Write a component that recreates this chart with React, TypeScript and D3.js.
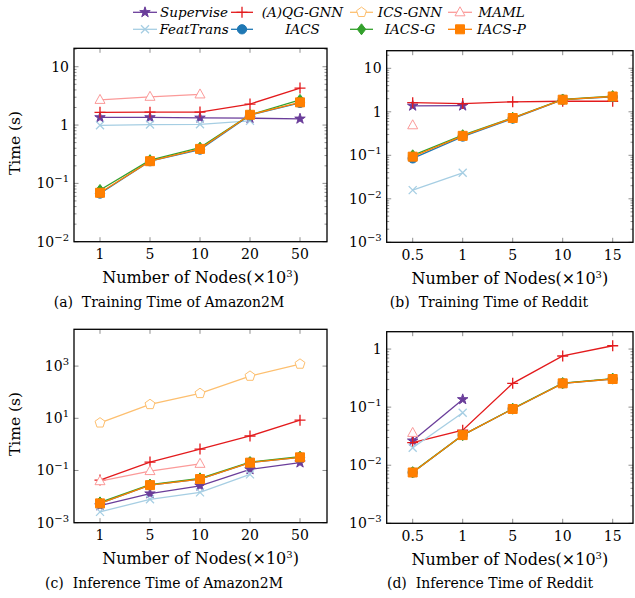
import React, { Component } from "react";
import * as d3 from "d3";

// x categories (number of nodes, x10^3)
const amazonNodes = ["1", "5", "10", "20", "50"];
const redditNodes = ["0.5", "1", "5", "10", "15"];

const methods = ["Supervise", "(A)QG-GNN", "ICS-GNN", "MAML", "FeatTrans", "IACS", "IACS-G", "IACS-P"];
const colors = ["#6a3d9a", "#e31a1c", "#fdbf6f", "#fb9a99", "#a6cee3", "#1f78b4", "#33a02c", "#ff7f00"];
const markers = ["star", "plus", "pentagon", "triangle", "cross", "circle", "diamond", "square"];

// (a) training time of Amazon2M
const trainAmazonSupervise = [1.35, 1.35, 1.33, 1.31, 1.28];
const trainAmazonAqg = [1.65, 1.66, 1.67, 2.29, 4.3];
const trainAmazonIcs = [null, null, null, null, null];
const trainAmazonMaml = [2.7, 3.05, 3.35, null, null];
const trainAmazonFeat = [0.99, 1.02, 1.03, 1.18, null];
const trainAmazonIacs = [0.067, 0.24, 0.38, 1.48, 2.4];
const trainAmazonIacsG = [0.077, 0.25, 0.41, 1.5, 2.7];
const trainAmazonIacsP = [0.069, 0.24, 0.39, 1.5, 2.45];

// (b) training time of Reddit
const trainRedditSupervise = [1.37, 1.38, null, null, null];
const trainRedditAqg = [1.62, 1.55, 1.7, 1.75, 1.75];
const trainRedditIcs = [null, null, null, null, null];
const trainRedditMaml = [0.49, null, null, null, null];
const trainRedditFeat = [0.0158, 0.0396, null, null, null];
const trainRedditIacs = [0.085, 0.27, 0.7, 1.9, 2.2];
const trainRedditIacsG = [0.1, 0.29, 0.73, 1.92, 2.3];
const trainRedditIacsP = [0.093, 0.28, 0.72, 1.9, 2.25];

// (c) inference time of Amazon2M
const inferAmazonSupervise = [0.0045, 0.013, 0.026, 0.11, 0.2];
const inferAmazonAqg = [0.043, 0.21, 0.66, 2.1, 8.5];
const inferAmazonIcs = [6.7, 34, 90, 414, 1200];
const inferAmazonMaml = [0.039, 0.095, 0.18, null, null];
const inferAmazonFeat = [0.0026, 0.0079, 0.0145, 0.071, null];
const inferAmazonIacs = [0.0055, 0.0275, 0.047, 0.2, 0.32];
const inferAmazonIacsG = [0.006, 0.029, 0.05, 0.21, 0.34];
const inferAmazonIacsP = [0.0055, 0.0275, 0.047, 0.2, 0.32];

// (d) inference time of Reddit
const inferRedditSupervise = [0.0264, 0.136, null, null, null];
const inferRedditAqg = [0.0245, 0.04, 0.257, 0.76, 1.14];
const inferRedditIcs = [null, null, null, null, null];
const inferRedditMaml = [0.036, null, null, null, null];
const inferRedditFeat = [0.02, 0.08, null, null, null];
const inferRedditIacs = [0.0075, 0.033, 0.093, 0.257, 0.305];
const inferRedditIacsG = [0.0076, 0.033, 0.094, 0.26, 0.31];
const inferRedditIacsP = [0.0075, 0.033, 0.093, 0.257, 0.305];

const FONT = "'DejaVu Serif', serif";

function markerPath(kind: string): string {
    switch (kind) {
        case "star": return d3.symbol(d3.symbolStar, 34)() as string;
        case "plus": return "M-5.5,0H5.5M0,-5.5V5.5";
        case "cross": return "M-4,-4L4,4M-4,4L4,-4";
        case "circle": return d3.symbol(d3.symbolCircle, 68)() as string;
        case "square": return d3.symbol(d3.symbolSquare, 81)() as string;
        case "diamond": return "M0,-5.5L4.2,0L0,5.5L-4.2,0Z";
        case "triangle": return "M0,-5.5L5,3.5L-5,3.5Z";
        case "pentagon": {
            const pts = d3.range(5).map(k => {
                const a = -Math.PI / 2 + k * 2 * Math.PI / 5;
                return [5.2 * Math.cos(a), 5.2 * Math.sin(a)];
            });
            return "M" + pts.map(p => p.join(",")).join("L") + "Z";
        }
    }
    return "";
}

function drawMarker(g: any, kind: string, color: string, x: number, y: number) {
    const open = kind === "pentagon" || kind === "triangle";
    const lineOnly = kind === "plus" || kind === "cross";
    g.append("path")
        .attr("d", markerPath(kind))
        .attr("transform", `translate(${x},${y})`)
        .attr("fill", lineOnly ? "none" : open ? "white" : color)
        .attr("stroke", color)
        .attr("stroke-width", lineOnly ? 1.3 : 1);
}

function tickLabel(text: any, v: number, alwaysPow: boolean) {
    const e = Math.round(Math.log10(v));
    if (!alwaysPow && e === 0) { text.text("1"); return; }
    if (!alwaysPow && e === 1) { text.text("10"); return; }
    text.append("tspan").text("10");
    text.append("tspan").attr("dy", -6).attr("font-size", 10).text(e < 0 ? "\u2212" + (-e) : String(e));
}

class App extends Component {
    myRef = React.createRef<SVGSVGElement>();

    componentDidMount() {
        const panels = [
            {
                cats: amazonNodes,
                series: [trainAmazonSupervise, trainAmazonAqg, trainAmazonIcs, trainAmazonMaml, trainAmazonFeat, trainAmazonIacs, trainAmazonIacsG, trainAmazonIacsP],
                frame: { x0: 74, x1: 327, y0: 48.3, y1: 241.7 },
                domain: [0.01, 20.7], ticks: [0.01, 0.1, 1, 10], minor: true, pow: false,
                ylabel: true, caption: "(a)  Training Time of Amazon2M", capX: 169
            },
            {
                cats: redditNodes,
                series: [trainRedditSupervise, trainRedditAqg, trainRedditIcs, trainRedditMaml, trainRedditFeat, trainRedditIacs, trainRedditIacsG, trainRedditIacsP],
                frame: { x0: 386.7, x1: 633, y0: 50.7, y1: 242.3 },
                domain: [0.001, 25.4], ticks: [0.001, 0.01, 0.1, 1, 10], minor: true, pow: false,
                ylabel: false, caption: "(b)  Training Time of Reddit", capX: 489
            },
            {
                cats: amazonNodes,
                series: [inferAmazonSupervise, inferAmazonAqg, inferAmazonIcs, inferAmazonMaml, inferAmazonFeat, inferAmazonIacs, inferAmazonIacsG, inferAmazonIacsP],
                frame: { x0: 74, x1: 327, y0: 329.3, y1: 522.7 },
                domain: [0.001, 25700], ticks: [0.001, 0.1, 10, 1000], minor: false, pow: true,
                ylabel: true, caption: "(c)  Inference Time of Amazon2M", capX: 164
            },
            {
                cats: redditNodes,
                series: [inferRedditSupervise, inferRedditAqg, inferRedditIcs, inferRedditMaml, inferRedditFeat, inferRedditIacs, inferRedditIacsG, inferRedditIacsP],
                frame: { x0: 386.7, x1: 633, y0: 331.7, y1: 523.3 },
                domain: [0.001, 1.99], ticks: [0.001, 0.01, 0.1, 1], minor: true, pow: false,
                ylabel: false, caption: "(d)  Inference Time of Reddit", capX: 490
            }
        ];
        this.drawChart(panels);
    }

    drawChart(panels: any[]) {
        const svg = d3.select(this.myRef.current);
        svg.selectAll("*").remove();
        svg.attr("font-family", FONT).style("position", "absolute").style("left", 0).style("top", 0);

        panels.forEach(p => {
            const f = p.frame;
            const g = svg.append("g");
            const x = d3.scalePoint().domain(p.cats).range([f.x0 + 26, f.x0 + 226]);
            const y = d3.scaleLog().domain(p.domain).range([f.y1, f.y0]);

            // ticks (inward, both sides)
            const tickG = g.append("g").attr("stroke", "#444").attr("stroke-width", 0.6);
            p.cats.forEach((c: string) => {
                const xc = x(c) as number;
                tickG.append("line").attr("x1", xc).attr("x2", xc).attr("y1", f.y1).attr("y2", f.y1 - 4.5);
                tickG.append("line").attr("x1", xc).attr("x2", xc).attr("y1", f.y0).attr("y2", f.y0 + 4.5);
            });
            p.ticks.forEach((t: number) => {
                const yt = y(t);
                tickG.append("line").attr("x1", f.x0).attr("x2", f.x0 + 4.5).attr("y1", yt).attr("y2", yt);
                tickG.append("line").attr("x1", f.x1).attr("x2", f.x1 - 4.5).attr("y1", yt).attr("y2", yt);
            });
            if (p.minor) {
                const lo = Math.floor(Math.log10(p.domain[0]));
                const hi = Math.ceil(Math.log10(p.domain[1]));
                for (let e = lo; e < hi; e++) {
                    for (let k = 2; k <= 9; k++) {
                        const v = k * Math.pow(10, e);
                        if (v < p.domain[0] || v > p.domain[1]) continue;
                        const yt = y(v);
                        tickG.append("line").attr("x1", f.x0).attr("x2", f.x0 + 2.5).attr("y1", yt).attr("y2", yt);
                        tickG.append("line").attr("x1", f.x1).attr("x2", f.x1 - 2.5).attr("y1", yt).attr("y2", yt);
                    }
                }
            }

            // frame
            g.append("rect")
                .attr("x", f.x0).attr("y", f.y0)
                .attr("width", f.x1 - f.x0).attr("height", f.y1 - f.y0)
                .attr("fill", "none").attr("stroke", "black").attr("stroke-width", 1.3);

            // tick labels
            p.cats.forEach((c: string) => {
                g.append("text").attr("x", x(c) as number).attr("y", f.y1 + 17.5)
                    .attr("text-anchor", "middle").attr("font-size", 14).text(c);
            });
            p.ticks.forEach((t: number) => {
                const tx = g.append("text").attr("x", f.x0 - 5).attr("y", y(t) + 5)
                    .attr("text-anchor", "end").attr("font-size", 14);
                tickLabel(tx, t, p.pow);
            });

            // x label
            const xl = g.append("text").attr("x", (f.x0 + f.x1) / 2).attr("y", f.y1 + 41.5)
                .attr("text-anchor", "middle").attr("font-size", 16);
            xl.append("tspan").text("Number of Nodes(\u00d710");
            xl.append("tspan").attr("dy", -6).attr("font-size", 10).text("3");
            xl.append("tspan").attr("dy", 6).text(")");

            // caption
            g.append("text").attr("x", p.capX).attr("y", f.y1 + 65)
                .attr("text-anchor", "middle").attr("font-size", 14)
                .attr("xml:space", "preserve").style("white-space", "pre").text(p.caption);

            if (p.ylabel) {
                g.append("text")
                    .attr("transform", `translate(20,${(f.y0 + f.y1) / 2 - 2}) rotate(-90)`)
                    .attr("text-anchor", "middle").attr("font-size", 15.5).text("Time (s)");
            }

            // series
            p.series.forEach((vals: (number | null)[], i: number) => {
                const pts = vals.map((v, j) => ({ c: p.cats[j], v })).filter(d => d.v != null);
                if (pts.length === 0) return;
                const line = d3.line<any>().x(d => x(d.c) as number).y(d => y(d.v));
                g.append("path").attr("d", line(pts) as string)
                    .attr("fill", "none").attr("stroke", colors[i]).attr("stroke-width", 1.3);
                pts.forEach(d => drawMarker(g, markers[i], colors[i], x(d.c) as number, y(d.v)));
            });
        });

        // legend
        const lg = svg.append("g");
        const colLine = [[133, 157], [231, 253], [350, 373], [448, 472]];
        const colText = [194, 302.5, 410, 501.5];
        const rowY = [12.3, 29.3];
        methods.forEach((m, i) => {
            const col = i % 4, row = Math.floor(i / 4);
            const [a, b] = colLine[col];
            lg.append("line").attr("x1", a).attr("x2", b).attr("y1", rowY[row]).attr("y2", rowY[row])
                .attr("stroke", colors[i]).attr("stroke-width", 1.3);
            drawMarker(lg, markers[i], colors[i], (a + b) / 2, rowY[row]);
            lg.append("text").attr("x", colText[col]).attr("y", rowY[row] + 5)
                .attr("text-anchor", "middle").attr("font-size", 13.5).attr("font-style", "italic").text(m);
        });
    }

    render() {
        return <svg ref={this.myRef} width={635} height={598} />;
    }
}

export default App;
